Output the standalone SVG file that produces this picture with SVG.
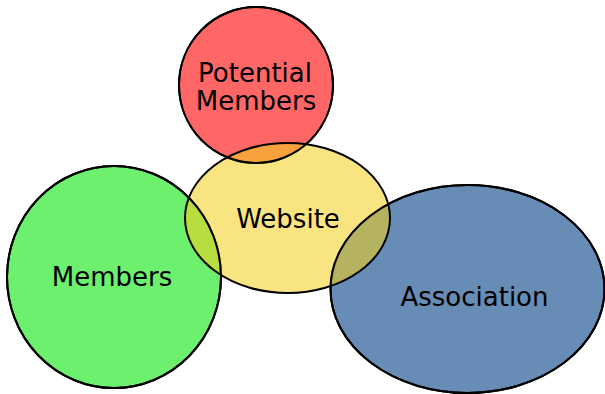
<svg xmlns="http://www.w3.org/2000/svg" xmlns:xlink="http://www.w3.org/1999/xlink" width="605" height="394" viewBox="0 0 605 394">
<style>
.shape{stroke:#000;stroke-width:2}
.outline{fill:none;stroke:#000;stroke-width:2}
.label{font-family:"DejaVu Sans","Liberation Sans",sans-serif;font-size:26px;fill:#000;text-anchor:middle}
</style>
<rect width="605" height="394" fill="#fff"/>
<g id="members" fill="#6ef06f">
<ellipse id="e-members" class="shape" cx="114" cy="277" rx="107" ry="111"/>
</g>
<g id="association" fill="#678db6">
<ellipse id="e-association" class="shape" cx="467.5" cy="289" rx="137" ry="104"/>
</g>
<g id="potential" fill="#ff6666">
<ellipse id="e-potential" class="shape" cx="256" cy="85" rx="77" ry="78"/>
</g>
<g id="website">
<ellipse id="e-website" cx="287.5" cy="218" rx="102.5" ry="75" fill="#f3cf1c" fill-opacity="0.56" stroke="#000" stroke-width="2"/>
</g>
<g id="connectors">
<use xlink:href="#e-members" class="outline"/>
<use xlink:href="#e-association" class="outline"/>
<use xlink:href="#e-potential" class="outline"/>
</g>
<g id="labels">
<text class="label" x="255" y="82">Potential</text>
<text class="label" x="256" y="110">Members</text>
<text class="label" x="288" y="228">Website</text>
<text class="label" x="112" y="286">Members</text>
<text class="label" x="474.5" y="306">Association</text>
</g>
</svg>
